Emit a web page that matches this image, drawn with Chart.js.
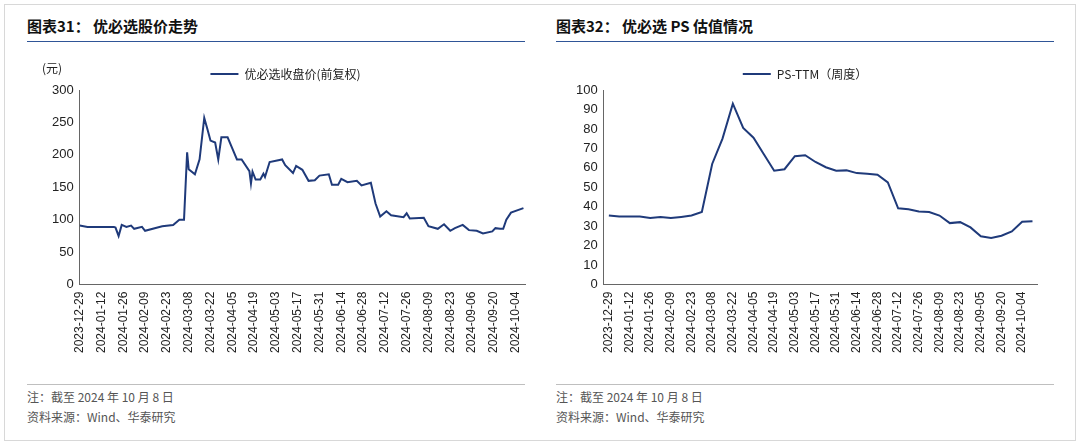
<!DOCTYPE html>
<html><head><meta charset="utf-8">
<script src="https://cdn.jsdelivr.net/npm/chart.js@4/dist/chart.umd.min.js"></script>
<style>
body{margin:0;width:1080px;height:445px;background:#fff;font-family:"Noto Sans CJK SC","Liberation Sans",sans-serif;position:relative;overflow:hidden}
.frame{position:absolute;left:4px;top:4px;right:4px;bottom:4px;border:1px solid #d8d8d8}
.title{position:absolute;top:15px;font-size:15px;font-weight:bold;color:#111;border-bottom:1.5px solid #2f5597;padding-bottom:5px}
.foot{position:absolute;top:384px;border-top:1px solid #bfbfbf;font-size:12px;color:#555;line-height:20px;padding-top:2px}
.box{position:absolute;top:52px;height:304px}
</style></head><body>
<div class="frame"></div>
<div class="title" style="left:27px;width:498px">图表31： 优必选股价走势</div>
<div class="title" style="left:556px;width:498px">图表32： 优必选 PS 估值情况</div>
<div class="foot" style="left:27px;width:498px">注：截至 2024 年 10 月 8 日<br>资料来源：Wind、华泰研究</div>
<div class="foot" style="left:556px;width:498px">注：截至 2024 年 10 月 8 日<br>资料来源：Wind、华泰研究</div>
<div class="box" style="left:30px;width:505px"><canvas id="c1"></canvas></div>
<div class="box" style="left:556px;width:494px"><canvas id="c2"></canvas></div>
<script>
// 股价：距 2023-12-29 的天数 与 收盘价
const priceDays = [0,5,11,22,23,25,27,30,33,35,40,42,53,60,64,67,69,70,74,77,80,82,84,87,89,91,95,98,101,104,109,110,111,113,116,118,119,122,130,132,137,139,143,147,151,154,160,162,166,168,172,178,181,187,190,193,197,200,208,210,212,221,224,230,234,238,241,246,250,255,259,265,267,270,272,274,277,285];
const priceVals = [91,89,89,89,88,75,92,89,91,86,89,83,90,92,100,100,204,178,170,193,257,240,222,219,193,227,227,210,193,193,175,156,174,162,162,171,166,189,193,184,172,183,177,160,161,168,170,154,154,163,158,160,153,157,125,105,113,107,104,110,102,103,90,86,93,83,87,92,84,83,79,82,87,86,86,100,111,118];
const priceTickDays = [0,14,28,42,56,70,84,98,112,126,140,154,168,182,196,210,224,238,252,266,280];
// PS-TTM 周度
const psLabels = ["2023-12-29","2024-01-05","2024-01-12","2024-01-19","2024-01-26","2024-02-02","2024-02-09","2024-02-16","2024-02-23","2024-03-01","2024-03-08","2024-03-15","2024-03-22","2024-03-29","2024-04-05","2024-04-12","2024-04-19","2024-04-26","2024-05-03","2024-05-10","2024-05-17","2024-05-24","2024-05-31","2024-06-07","2024-06-14","2024-06-21","2024-06-28","2024-07-05","2024-07-12","2024-07-19","2024-07-26","2024-08-02","2024-08-09","2024-08-16","2024-08-23","2024-08-30","2024-09-05","2024-09-13","2024-09-20","2024-09-27","2024-10-04","2024-10-08"];
const psVals = [35.5,35,35,35,34.2,34.7,34.2,34.8,35.5,37.3,62,75,93,80.5,75.5,67,58.5,59.3,66,66.5,63,60.3,58.5,58.7,57.3,57,56.5,52.5,39.2,38.7,37.6,37.3,35.5,31.6,32.1,29.4,24.8,24,25.1,27.3,32.3,32.6];

const navy = "#1f3a7a";
const base = new Date(Date.UTC(2023,11,29));
function dayLabel(d){const t=new Date(base.getTime()+d*86400000);return t.toISOString().slice(0,10);}
const tickFont={family:"Liberation Sans",size:13};
const xFont={family:"Liberation Sans",size:12};
const axisY=(min,max,step)=>({min,max,ticks:{stepSize:step,color:"#222",font:tickFont,padding:6},grid:{display:false,drawTicks:false},border:{color:"#666"}});
const legendCfg={display:true,labels:{boxWidth:28,boxHeight:0,color:"#222",font:{family:"Noto Sans CJK SC",size:12}}};

const unitPlugin={id:"unit",afterDraw(c){if(c.canvas.id!=="c1")return;const x=c.ctx;x.save();x.font="12px 'Noto Sans CJK SC'";x.fillStyle="#222";x.fillText("(元)",12,16);x.restore();}};

new Chart(document.getElementById("c1"),{
  type:"line",
  data:{datasets:[{label:"优必选收盘价(前复权)",data:priceDays.map((d,i)=>({x:d,y:priceVals[i]})),borderColor:navy,backgroundColor:navy,borderWidth:2,pointRadius:0,tension:0}]},
  options:{responsive:true,maintainAspectRatio:false,animation:false,
    layout:{padding:{top:6,right:10,left:16}},
    plugins:{legend:legendCfg,tooltip:{enabled:false}},
    scales:{
      x:{type:"linear",min:0,max:286,
        afterBuildTicks:s=>{s.ticks=priceTickDays.map(v=>({value:v}));},
        ticks:{autoSkip:false,maxRotation:90,minRotation:90,color:"#222",font:xFont,callback:v=>dayLabel(v)},
        grid:{display:false,drawTicks:true,tickLength:4,color:"#666"},border:{color:"#666"}},
      y:axisY(0,300,50)}},
  plugins:[unitPlugin]
});

new Chart(document.getElementById("c2"),{
  type:"line",
  data:{labels:psLabels,datasets:[{label:"PS-TTM（周度）",data:psVals,borderColor:navy,backgroundColor:navy,borderWidth:2,pointRadius:0,tension:0}]},
  options:{responsive:true,maintainAspectRatio:false,animation:false,
    layout:{padding:{top:6,right:10,left:14}},
    plugins:{legend:legendCfg,tooltip:{enabled:false}},
    scales:{
      x:{offset:true,ticks:{autoSkip:false,maxRotation:90,minRotation:90,color:"#222",font:xFont,callback:(v,i)=>i%2===0?psLabels[i]:""},grid:{display:false,drawTicks:true,tickLength:4,color:"#666"},border:{color:"#666"}},
      y:axisY(0,100,10)}}
});
</script>
</body></html>
